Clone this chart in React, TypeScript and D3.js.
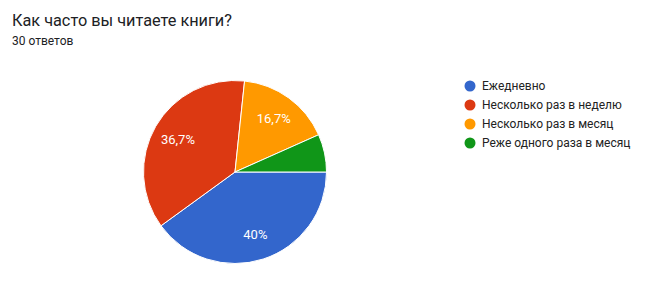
import React from "react";
import * as d3 from "d3";

const categories = ["Ежедневно", "Несколько раз в неделю", "Несколько раз в месяц", "Реже одного раза в месяц"];
const counts = [12, 11, 5, 2];
const colors = ["#3366cc", "#dc3912", "#ff9900", "#109618"];
const labels = ["40%", "36,7%", "16,7%", ""];
const title = "Как часто вы читаете книги?";
const subtitle = "30 ответов";

export default function App() {
  const W = 645, H = 292;
  const cx = 235, cy = 172, r = 91.5;
  const pie = d3.pie<number>().sort(null).startAngle(Math.PI / 2).endAngle(Math.PI / 2 + 2 * Math.PI);
  const arcs = pie(counts);
  const arc = d3.arc<d3.PieArcDatum<number>>().innerRadius(0).outerRadius(r);
  const labelArc = d3.arc<d3.PieArcDatum<number>>().innerRadius(r * 0.72).outerRadius(r * 0.72);
  const font = "Roboto, Arial, sans-serif";
  return (
    <svg width={W} height={H} style={{ position: "absolute", left: 0, top: 0, background: "#fff" }}>
      <text x={12} y={26} fontFamily={font} fontSize={16.3} fill="#202124">{title}</text>
      <text x={12} y={45} fontFamily={font} fontSize={12} fill="#202124">{subtitle}</text>
      <g transform={`translate(${cx},${cy})`}>
        {arcs.map((a, i) => (
          <path key={i} d={arc(a) || ""} fill={colors[i]} stroke="#fff" strokeWidth={1} />
        ))}
        {arcs.map((a, i) => {
          const [x, y] = labelArc.centroid(a);
          return labels[i] ? (
            <text key={i} x={x} y={y} dy="0.35em" textAnchor="middle" fontFamily={font} fontSize={13} fill="#fff">{labels[i]}</text>
          ) : null;
        })}
      </g>
      {categories.map((c, i) => (
        <g key={c} transform={`translate(470,${86 + i * 19})`}>
          <circle r={5.5} fill={colors[i]} />
          <text x={12} dy="0.35em" fontFamily={font} fontSize={12} fill="#222">{c}</text>
        </g>
      ))}
    </svg>
  );
}
